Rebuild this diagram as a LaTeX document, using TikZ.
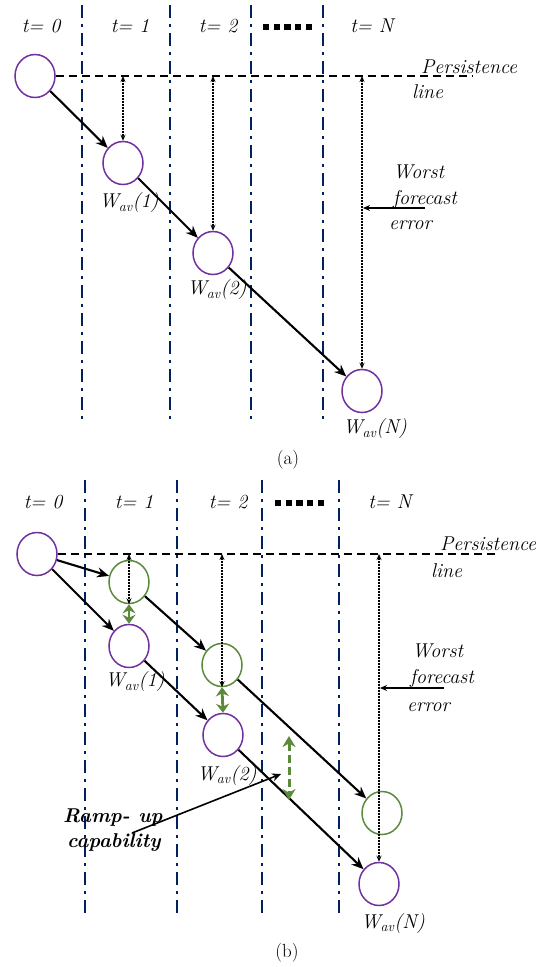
\documentclass[tikz,border=0pt]{standalone}
\usepackage{fontspec}
\usetikzlibrary{arrows.meta,shapes.geometric}
\definecolor{navy}{HTML}{002060}
\definecolor{purp}{HTML}{7030A0}
\definecolor{grn}{HTML}{5A8A3A}
\begin{document}
\begin{tikzpicture}[x=1pt,y=-1pt,
 vline/.style={navy,line width=2.6pt,dash pattern=on 13pt off 6pt on 3pt off 6pt},
 pnode/.style={ellipse,draw=purp,line width=1.5pt,minimum width=40pt,minimum height=43pt,inner sep=0pt},
 gnode/.style={ellipse,draw=grn,line width=1.5pt,minimum width=40pt,minimum height=43pt,inner sep=0pt},
 arr/.style={-{Stealth[length=12pt,width=10pt]},line width=2.1pt},
 dotarr/.style={{Stealth[length=6pt,width=5pt]}-{Stealth[length=6pt,width=5pt]},line width=1.1pt,dash pattern=on 2pt off 1pt},
 persist/.style={line width=2.2pt,dash pattern=on 8pt off 5pt},
 lbl/.style={font=\fontsize{20}{23}\selectfont\itshape,inner sep=0pt},
 rlbl/.style={font=\fontsize{19}{22}\selectfont,inner sep=0pt},
 blbl/.style={font=\fontsize{20}{23}\selectfont\bfseries\itshape,inner sep=0pt},
 garr/.style={grn,line width=2.8pt,{Stealth[length=9pt,width=13pt]}-{Stealth[length=9pt,width=13pt]}},
 gdarr/.style={grn,line width=3pt,dash pattern=on 8pt off 4pt,{Stealth[length=11pt,width=13pt]}-{Stealth[length=11pt,width=13pt]}},
 sq/.style={line width=6.3pt,dash pattern=on 6.3pt off 4.4pt}]
\useasboundingbox (0,0) rectangle (550,967);

%% ---------------- panel (a) ----------------
\foreach \x in {82,170,251,323} \draw[vline] (\x,5) -- (\x,422);
\node[lbl] (ta0) at (41,26) {t= 0};
\node[lbl] (ta1) at (130,26) {t= 1};
\node[lbl] (ta2) at (218,26) {t= 2};
\node[lbl] (taN) at (372,26) {t= N};
\draw[sq] (263,27) -- (313,27);

\node[pnode] (a0) at (35,76) {};
\node[pnode] (a1) at (123,163) {};
\node[pnode] (a2) at (213,253) {};
\node[pnode] (aN) at (362,391) {};

\coordinate (pae) at (472,76);
\draw[persist] (a0.east) -- (pae);
\node[lbl,anchor=west] (pla1) at (421,67) {Persistence};
\node[lbl,anchor=west] (pla2) at (412,92) {line};

\draw[arr] (a0) -- (a1);
\draw[arr] (a1) -- (a2);
\draw[arr] (a2) -- (aN);

\coordinate (qa1) at (123,76);
\coordinate (qa2) at (213,76);
\coordinate (qaN) at (362,76);
\draw[dotarr] (qa1) -- (a1.north);
\draw[dotarr] (qa2) -- (a2.north);
\draw[dotarr] (qaN) -- (aN.north);

\node[lbl] (wa1) at (129,203) {W\textsubscript{av}(1)};
\node[lbl] (wa2) at (217,290) {W\textsubscript{av}(2)};
\node[lbl] (waN) at (375,429) {W\textsubscript{av}(N)};

\node[lbl,anchor=west] (wfa1) at (393,172) {Worst};
\node[lbl,anchor=west] (wfa2) at (393,199) {forecast};
\node[lbl,anchor=west] (wfa3) at (389,225) {error};
\coordinate (wsa) at (425,208);
\coordinate (wta) at (363,208);
\draw[-{Stealth[length=7pt,width=6pt]},line width=1.6pt] (wsa) -- (wta);

\node[rlbl] (capa) at (288,460) {(a)};

%% ---------------- panel (b) ----------------
\foreach \x in {85,177,262,339} \draw[vline] (\x,480) -- (\x,916);
\node[lbl] (tb0) at (43,502) {t= 0};
\node[lbl] (tb1) at (134,502) {t= 1};
\node[lbl] (tb2) at (228,502) {t= 2};
\node[lbl] (tbN) at (390,502) {t= N};
\draw[sq] (275,503) -- (327,503);

\node[pnode] (b0) at (37,554) {};
\node[gnode] (g1) at (129,582) {};
\node[pnode] (b1) at (129,646) {};
\node[gnode] (g2) at (222,665) {};
\node[pnode] (b2) at (223,735) {};
\node[gnode] (gN) at (382,813) {};
\node[pnode] (bN) at (379,884) {};

\coordinate (pbe) at (495,554);
\draw[persist] (b0.east) -- (pbe);
\node[lbl,anchor=west] (plb1) at (440,544) {Persistence};
\node[lbl,anchor=west] (plb2) at (431,571) {line};

\coordinate (qb1) at (129,554);
\coordinate (qb2) at (222,554);
\coordinate (qbN) at (379,554);
\draw[dotarr] (qb1) -- (g1.south);
\draw[dotarr] (qb2) -- (g2.south);
\draw[dotarr] (qbN) -- (bN.north);

\draw[garr] (g1.south) -- (b1.north);
\draw[garr] (g2.south) -- (b2.north);

\draw[arr] (b0) -- (g1);
\draw[arr] (b0) -- (b1);
\draw[arr] (g1) -- (g2);
\draw[arr] (b1) -- (b2);
\draw[arr] (g2) -- (gN);
\draw[arr] (b2) -- (bN);

\coordinate (rt) at (289,736);
\coordinate (rb) at (289,800);
\draw[gdarr] (rt) -- (rb);

\node[lbl] (wb1) at (135,682) {W\textsubscript{av}(1)};
\node[lbl] (wb2) at (227,775) {W\textsubscript{av}(2)};
\node[lbl] (wbN) at (393,923) {W\textsubscript{av}(N)};

\node[lbl,anchor=west] (wfb1) at (412,651) {Worst};
\node[lbl,anchor=west] (wfb2) at (410,678) {forecast};
\node[lbl,anchor=west] (wfb3) at (407,707) {error};
\coordinate (wsb) at (444,688);
\coordinate (wtb) at (380,688);
\draw[-{Stealth[length=7pt,width=6pt]},line width=1.6pt] (wsb) -- (wtb);

\node[blbl,anchor=west] (ru1) at (63,818) {Ramp- up};
\node[blbl,anchor=west] (ru2) at (67,843) {capability};
\coordinate (rus) at (132,833);
\coordinate (rue) at (281,774);
\draw[-{Stealth[length=9pt,width=8pt]},line width=1.6pt] (rus) -- (rue);

\node[rlbl] (capb) at (287,953) {(b)};
\end{tikzpicture}
\end{document}
